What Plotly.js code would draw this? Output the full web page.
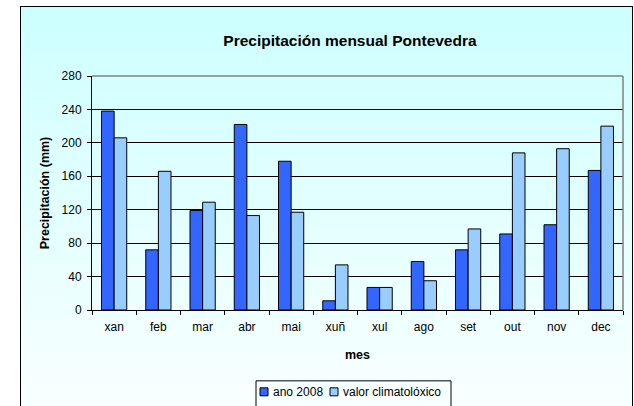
<!DOCTYPE html>
<html><head><meta charset="utf-8">
<script src="https://cdn.plot.ly/plotly-3.0.1.min.js"></script>
<style>
body{margin:0;background:#fff;}
#wrap{position:relative;width:634px;height:406px;overflow:hidden;background:#fff;}
#frame{position:absolute;left:20px;top:6px;width:611px;height:430px;border:1.5px solid #000;background:linear-gradient(#ccffff,#f8ffff 90%);}
#chart{position:absolute;left:0;top:0;width:634px;height:406px;}
</style></head>
<body>
<div id="wrap"><div id="frame"></div><div id="chart"></div></div>
<script>
const months = ["xan","feb","mar","abr","mai","xuñ","xul","ago","set","out","nov","dec"];
const ano2008 = [238, 72, 119, 222, 178, 11, 27, 58, 72, 91, 102, 167];
const climatoloxico = [206, 166, 129, 113, 117, 54, 27, 35, 97, 188, 193, 220];
const yTicks = [0, 40, 80, 120, 160, 200, 240, 280];
const seriesNames = ["ano 2008", "valor climatolóxico"];
const seriesColors = ["#3366ff", "#99ccff"];

const font = "Liberation Sans, Arial, sans-serif";
const M = {l:92, r:11, t:75.5, b:96};
const W = 634, H = 406;
const pw = W - M.l - M.r, ph = H - M.t - M.b;
const px = v => (v - M.l) / pw;          // pixel x -> paper
const py = v => (H - M.b - v) / ph;      // pixel y -> paper

const traces = [
  {type:"bar", name:seriesNames[0], x:months, y:ano2008,
   marker:{color:seriesColors[0], line:{color:"#000", width:1}}},
  {type:"bar", name:seriesNames[1], x:months, y:climatoloxico,
   marker:{color:seriesColors[1], line:{color:"#000", width:1}}}
];

// legend (compact, Excel-like)
const legBox = {x0:256, x1:451, y0:381, y1:420};
const legItems = [{sq:260, tx:271}, {sq:330, tx:341}];
const legShapes = [{type:"rect", xref:"paper", yref:"paper", x0:px(legBox.x0), x1:px(legBox.x1),
                    y0:py(legBox.y1), y1:py(legBox.y0), line:{color:"#000", width:1}, fillcolor:"rgba(0,0,0,0)"}];
const legAnn = [];
legItems.forEach((it, i) => {
  legShapes.push({type:"rect", xref:"paper", yref:"paper", x0:px(it.sq), x1:px(it.sq+8),
                  y0:py(396), y1:py(388), line:{color:"#000", width:1}, fillcolor:seriesColors[i]});
  legAnn.push({text:seriesNames[i], xref:"paper", yref:"paper", x:px(it.tx), y:py(392.5),
               xanchor:"left", yanchor:"middle", showarrow:false, font:{size:12}});
});

const layout = {
  width:W, height:H, margin:M,
  paper_bgcolor:"rgba(0,0,0,0)", plot_bgcolor:"rgba(0,0,0,0)",
  font:{family:font, size:12, color:"#000"},
  barmode:"group", bargap:0.43, bargroupgap:0, showlegend:false,
  title:{text:"<b>Precipitación mensual Pontevedra</b>", font:{size:15.5, family:font, color:"#000"},
         x:350/W, xanchor:"center", xref:"container", y:1-41/H, yanchor:"middle", yref:"container"},
  xaxis:{type:"category", tickson:"boundaries", ticks:"outside", ticklen:4, tickcolor:"#000",
         showline:true, linecolor:"#000", linewidth:1, showgrid:false, ticklabelstandoff:6,
         tickfont:{size:12}, title:{text:"<b>mes</b>", font:{size:12.5}, standoff:16}},
  yaxis:{range:[0,280], tickvals:yTicks, ticks:"outside", ticklen:4, tickcolor:"#000",
         showline:true, linecolor:"#000", linewidth:1, showgrid:true, gridcolor:"#000", gridwidth:1,
         zeroline:false, tickfont:{size:12}, ticklabelstandoff:3,
         title:{text:"<b>Precipitación (mm)</b>", font:{size:12.5}, standoff:9}},
  shapes:[
    {type:"line", xref:"paper", yref:"paper", x0:0, x1:1, y0:1, y1:1, line:{color:"#808080", width:1.5}, layer:"above"},
    {type:"line", xref:"paper", yref:"paper", x0:1, x1:1, y0:0, y1:1, line:{color:"#808080", width:1.5}, layer:"above"}
  ].concat(legShapes),
  annotations: legAnn
};
Plotly.newPlot("chart", traces, layout, {displayModeBar:false, staticPlot:true});
</script>
</body></html>
